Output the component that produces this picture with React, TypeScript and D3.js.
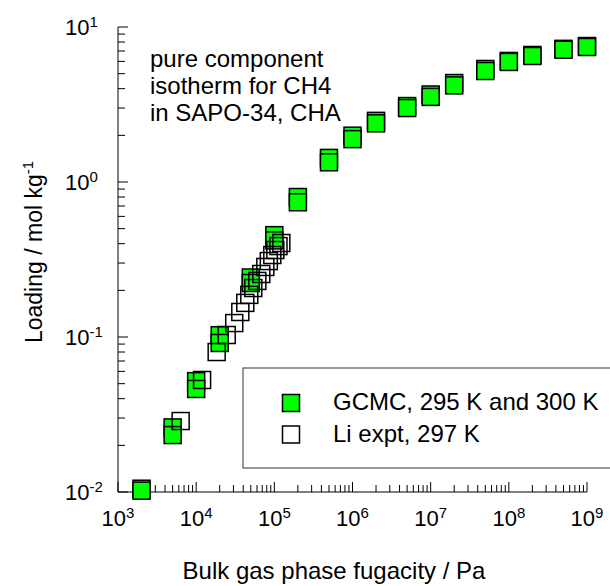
import React from "react";
import * as d3 from "d3";

// GCMC simulations at 295 K and 300 K (fugacity in Pa, loading in mol/kg)
const gcmcFugacity = [2e3, 5e3, 1e4, 2e4, 5e4, 1e5, 2e5, 5e5, 1e6, 2e6, 5e6, 1e7, 2e7, 5e7, 1e8, 2e8, 5e8, 1e9];
const gcmc295 = [0.0105, 0.0261, 0.0519, 0.1027, 0.242, 0.454, 0.8, 1.43, 1.99, 2.48, 3.09, 3.67, 4.35, 5.36, 6.04, 6.6, 7.23, 7.54];
const gcmc300 = [0.0102, 0.0233, 0.0462, 0.0915, 0.223, 0.42, 0.74, 1.34, 1.89, 2.39, 3.0, 3.54, 4.2, 5.2, 5.95, 6.5, 7.13, 7.43];

// Li experimental isotherm at 297 K
const exptFugacity = [6.33e3, 1.19e4, 1.83e4, 2.46e4, 3.07e4, 3.67e4, 4.25e4, 4.78e4, 5.38e4, 6.06e4, 6.81e4, 7.67e4, 8.5e4, 9.42e4, 1.03e5, 1.13e5, 1.23e5];
const exptLoading = [0.0287, 0.0528, 0.08, 0.103, 0.123, 0.145, 0.166, 0.187, 0.207, 0.23, 0.255, 0.283, 0.309, 0.338, 0.364, 0.386, 0.404];

const xDecades = [3, 4, 5, 6, 7, 8, 9];
const yDecades = [-2, -1, 0, 1];

const legendLabels = ["GCMC, 295 K and 300 K", "Li expt, 297 K"];
const noteLines = ["pure component", "isotherm for CH4", "in SAPO-34, CHA"];

const W = 610;
const H = 586;
const FONT = "'Liberation Sans', Arial, Helvetica, sans-serif";
const GREEN = "#00ff00";
const MS = 17;

export default function App() {
  const x = d3.scaleLog().domain([1e3, 1e9]).range([118, 587]);
  const y = d3.scaleLog().domain([1e-2, 1e1]).range([492, 27]);

  const xMinor: number[] = [];
  for (let d = 3; d < 9; d++) for (let m = 2; m <= 9; m++) xMinor.push(m * Math.pow(10, d));
  const yMinor: number[] = [];
  for (let d = -2; d < 1; d++) for (let m = 2; m <= 9; m++) yMinor.push(m * Math.pow(10, d));

  const square = (cx: number, cy: number, key: string, fill: string) => (
    <rect key={key} x={cx - MS / 2} y={cy - MS / 2} width={MS} height={MS}
      fill={fill} stroke="#000" strokeWidth={1.5} />
  );

  return (
    <svg width={W} height={H} style={{ position: "absolute", left: 0, top: 0 }} fontFamily={FONT}>
      <rect width={W} height={H} fill="#fff" />

      {/* axes */}
      <line x1={118} x2={118} y1={y(1e1)} y2={y(1e-2)} stroke="#000" strokeWidth={1} />
      <line x1={118} x2={x(1e9)} y1={y(1e-2)} y2={y(1e-2)} stroke="#000" strokeWidth={1} />

      {xDecades.map((d) => (
        <line key={"xM" + d} x1={x(Math.pow(10, d))} x2={x(Math.pow(10, d))}
          y1={492} y2={482} stroke="#000" strokeWidth={1} />
      ))}
      {xMinor.map((v) => (
        <line key={"xm" + v} x1={x(v)} x2={x(v)} y1={492} y2={485} stroke="#000" strokeWidth={1} />
      ))}
      {yDecades.map((d) => (
        <line key={"yM" + d} x1={118} x2={128} y1={y(Math.pow(10, d))} y2={y(Math.pow(10, d))}
          stroke="#000" strokeWidth={1} />
      ))}
      {yMinor.map((v) => (
        <line key={"ym" + v} x1={118} x2={125} y1={y(v)} y2={y(v)} stroke="#000" strokeWidth={1} />
      ))}

      {/* tick labels */}
      {xDecades.map((d) => (
        <text key={"xl" + d} x={x(Math.pow(10, d))} y={526} textAnchor="middle" fontSize={22} fill="#000">
          10<tspan dy={-8.5} fontSize={15}>{d}</tspan>
        </text>
      ))}
      {yDecades.map((d) => (
        <text key={"yl" + d} x={65} y={y(Math.pow(10, d)) + 8} fontSize={22} fill="#000">
          10<tspan dy={-8.5} fontSize={15}>{d < 0 ? "-" + Math.abs(d) : d}</tspan>
        </text>
      ))}

      {/* axis titles */}
      <text x={334} y={579} textAnchor="middle" fontSize={24} fill="#000">
        Bulk gas phase fugacity / Pa
      </text>
      <text transform="translate(42,252) rotate(-90)" textAnchor="middle" fontSize={23} fill="#000">
        Loading / mol kg<tspan dy={-9} fontSize={15}>-1</tspan>
      </text>

      {/* annotation */}
      {noteLines.map((t, i) => (
        <text key={"n" + i} x={150} y={67 + i * 27} fontSize={24} fill="#000">{t}</text>
      ))}

      {/* legend */}
      <rect x={243} y={368} width={400} height={100} fill="#fff" stroke="#333" strokeWidth={1} />
      {square(291, 403, "lg0", GREEN)}
      {square(291, 434.5, "lg1", "none")}
      {legendLabels.map((t, i) => (
        <text key={"lt" + i} x={333} y={410 + i * 32} fontSize={24} fill="#000">{t}</text>
      ))}

      {/* data */}
      {gcmcFugacity.map((f, i) => square(x(f), y(gcmc295[i]), "a" + i, GREEN))}
      {gcmcFugacity.map((f, i) => square(x(f), y(gcmc300[i]), "b" + i, GREEN))}
      {exptFugacity.map((f, i) => square(x(f), y(exptLoading[i]), "e" + i, "none"))}
    </svg>
  );
}
